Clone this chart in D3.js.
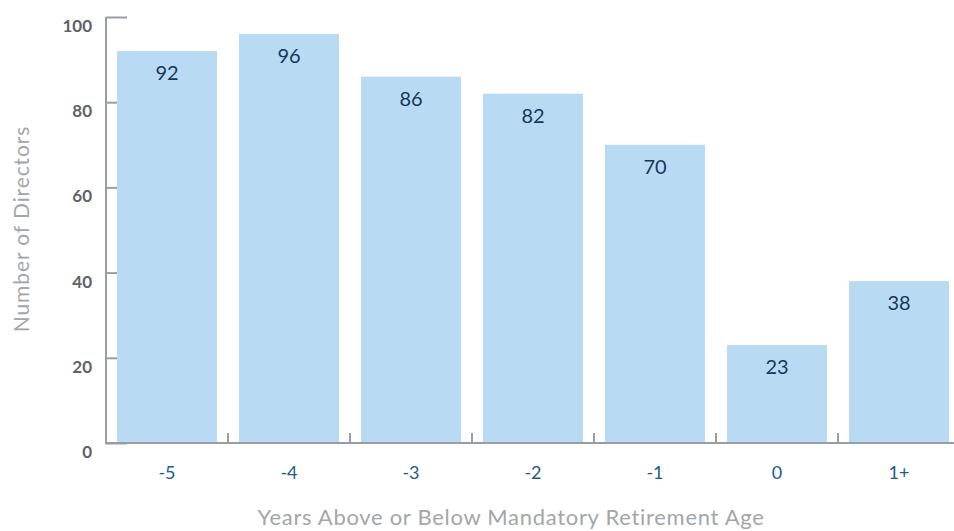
<!DOCTYPE html>
<html>
<head>
<meta charset="utf-8">
<script src="https://cdn.jsdelivr.net/npm/d3@7"></script>
<style>
  body { margin: 0; background: #fff; }
  svg { display: block; font-family: Lato, "Open Sans", sans-serif; }
</style>
</head>
<body>
<div id="chart"></div>
<script>
const categories = ["-5", "-4", "-3", "-2", "-1", "0", "1+"];
const directors = [92, 96, 86, 82, 70, 23, 38];
const yTicks = [0, 20, 40, 60, 80, 100];

const width = 954;
const height = 531;

const svg = d3.select("#chart")
  .append("svg")
  .attr("width", width)
  .attr("height", height);

const x = d3.scaleBand()
  .domain(categories)
  .range([106, 960])
  .paddingInner(22 / 122)
  .paddingOuter(11 / 122);

const y = d3.scaleLinear()
  .domain([0, 100])
  .range([443, 17]);

const axisColor = "#999ea3";

// y axis: inward ticks, labels sit just below each tick
const yAxis = svg.append("g")
  .attr("transform", "translate(106,0)")
  .call(d3.axisRight(y).tickValues(yTicks).tickSize(21).tickFormat(""));
yAxis.select(".domain").remove();
yAxis.selectAll(".tick line").attr("stroke", axisColor).attr("stroke-width", 2);

svg.append("line")
  .attr("x1", 106).attr("x2", 106)
  .attr("y1", y(100)).attr("y2", y(0))
  .attr("stroke", axisColor)
  .attr("stroke-width", 2);

svg.selectAll(".ylabel")
  .data(yTicks)
  .enter()
  .append("text")
  .attr("class", "ylabel")
  .attr("x", 92)
  .attr("y", d => y(d) + 15)
  .attr("text-anchor", "end")
  .attr("fill", "#5f6266")
  .attr("font-size", "17px")
  .attr("font-weight", "bold")
  .text(d => d);

// bars
svg.selectAll(".bar")
  .data(directors)
  .enter()
  .append("rect")
  .attr("class", "bar")
  .attr("x", (d, i) => x(categories[i]))
  .attr("y", d => y(d))
  .attr("width", x.bandwidth())
  .attr("height", d => y(0) - y(d))
  .attr("fill", "#b8dbf3");

// value labels
svg.selectAll(".value")
  .data(directors)
  .enter()
  .append("text")
  .attr("class", "value")
  .attr("x", (d, i) => x(categories[i]) + x.bandwidth() / 2)
  .attr("y", d => y(d) + 29)
  .attr("text-anchor", "middle")
  .attr("fill", "#17375a")
  .attr("font-size", "20px")
  .text(d => d);

// x axis baseline and separators between bands
svg.append("line")
  .attr("x1", 105).attr("x2", width)
  .attr("y1", y(0)).attr("y2", y(0))
  .attr("stroke", axisColor)
  .attr("stroke-width", 2);

const separators = categories.slice(1).map(c => x(c) - x.step() * x.paddingInner() / 2);
svg.selectAll(".sep")
  .data(separators)
  .enter()
  .append("line")
  .attr("class", "sep")
  .attr("x1", d => d).attr("x2", d => d)
  .attr("y1", y(0)).attr("y2", y(0) - 10)
  .attr("stroke", axisColor)
  .attr("stroke-width", 2);

svg.selectAll(".xlabel")
  .data(categories)
  .enter()
  .append("text")
  .attr("class", "xlabel")
  .attr("x", d => x(d) + x.bandwidth() / 2)
  .attr("y", 479)
  .attr("text-anchor", "middle")
  .attr("fill", "#1d5b8a")
  .attr("font-size", "18px")
  .text(d => d);

// axis titles
svg.append("text")
  .attr("transform", "translate(29,229) rotate(-90)")
  .attr("text-anchor", "middle")
  .attr("fill", "#a3a6a9")
  .attr("font-size", "21px")
  .attr("letter-spacing", "0.9px")
  .text("Number of Directors");

svg.append("text")
  .attr("x", 511)
  .attr("y", 525)
  .attr("text-anchor", "middle")
  .attr("fill", "#a3a6a9")
  .attr("font-size", "22px")
  .attr("letter-spacing", "0.7px")
  .text("Years Above or Below Mandatory Retirement Age");
</script>
</body>
</html>
